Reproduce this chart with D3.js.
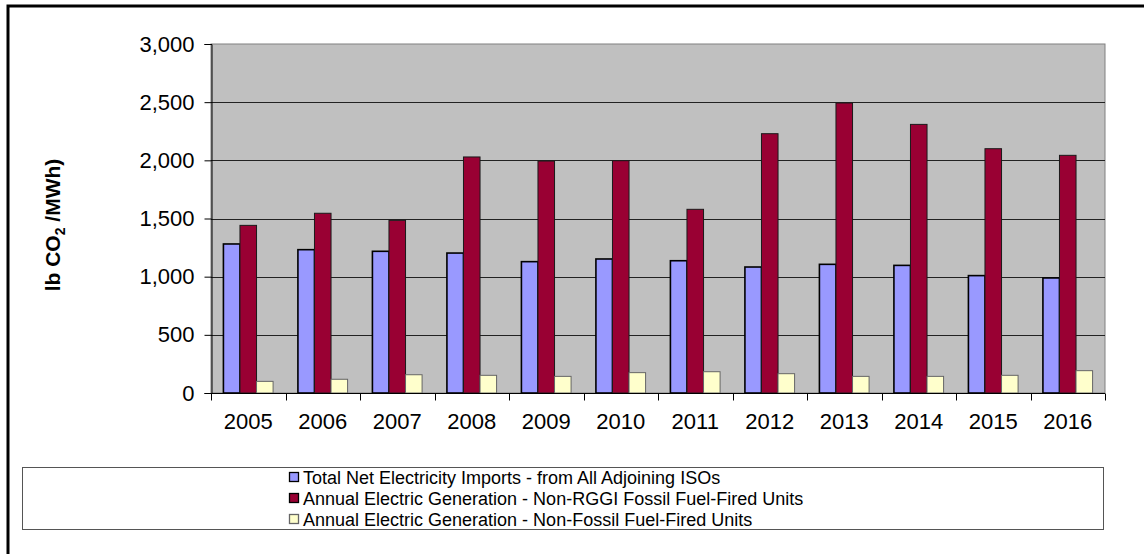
<!DOCTYPE html>
<html><head><meta charset="utf-8">
<script src="https://cdn.jsdelivr.net/npm/d3@7"></script>
<style>
html,body{margin:0;padding:0;background:#fff;}
svg{display:block;font-family:Arial,"Liberation Sans",sans-serif;}
</style></head>
<body>
<svg id="chart" width="1144" height="554"></svg>
<script>
const years = ["2005","2006","2007","2008","2009","2010","2011","2012","2013","2014","2015","2016"];
const imports = [1281,1232,1218,1203,1129,1152,1137,1083,1106,1097,1009,989];
const nonRggiFossil = [1441,1545,1484,2029,1994,1997,1579,2229,2493,2309,2100,2043];
const nonFossil = [100,118,157,152,143,175,183,166,143,143,152,192];
const seriesNames = [
  "Total Net Electricity Imports - from All Adjoining ISOs",
  "Annual Electric Generation - Non-RGGI Fossil Fuel-Fired Units",
  "Annual Electric Generation - Non-Fossil Fuel-Fired Units"
];
const yTicks = [0,500,1000,1500,2000,2500,3000];

const series = [
  {name: seriesNames[0], values: imports, fill:"#9999FF", stroke:"#000", sw:1.6},
  {name: seriesNames[1], values: nonRggiFossil, fill:"#990033", stroke:"#1a1a1a", sw:1},
  {name: seriesNames[2], values: nonFossil, fill:"#FFFFCC", stroke:"#666", sw:1}
];

const svg = d3.select("#chart");
// outer frame
svg.append("rect").attr("x",8).attr("y",6).attr("width",1160).attr("height",580)
  .attr("fill","none").attr("stroke","#000").attr("stroke-width",3);

const L=211, R=1105, T=44, B=393;
const x = d3.scaleBand().domain(years).range([L,R]).paddingInner(0).paddingOuter(0);
const y = d3.scaleLinear().domain([0,3000]).range([B,T]);
const barW = x.bandwidth()/4.5;
const inner = d3.scaleBand().domain([0,1,2]).range([0, barW*3]);

// plot background
svg.append("rect").attr("x",L).attr("y",T).attr("width",R-L).attr("height",B-T)
  .attr("fill","#C0C0C0").attr("stroke","#808080").attr("stroke-width",1);

// gridlines
svg.append("g").selectAll("line").data(yTicks.filter(d=>d>0 && d<3000)).join("line")
  .attr("x1",L).attr("x2",R).attr("y1",d=>Math.round(y(d))+0.5).attr("y2",d=>Math.round(y(d))+0.5)
  .attr("stroke","#222").attr("stroke-width",1);

// bars
series.forEach((s,i)=>{
  svg.append("g").selectAll("rect").data(years.map((yr,j)=>({yr,v:s.values[j]}))).join("rect")
    .attr("x",d=>x(d.yr)+(x.bandwidth()-barW*3)/2+inner(i))
    .attr("y",d=>y(d.v))
    .attr("width",barW)
    .attr("height",d=>B-y(d.v))
    .attr("fill",s.fill).attr("stroke",s.stroke).attr("stroke-width",s.sw);
});

// y axis
const yAxis = d3.axisLeft(y).tickValues(yTicks).tickSize(7).tickPadding(10)
  .tickFormat(d3.format(","));
const gy = svg.append("g").attr("transform",`translate(${L+0.5},0)`).call(yAxis);
gy.select(".domain").attr("stroke","#000");
gy.selectAll(".tick line").attr("stroke","#000");
gy.selectAll("text").attr("font-size",22).attr("fill","#000").attr("font-family","Arial,'Liberation Sans',sans-serif");

// x axis: ticks at category boundaries
const gx = svg.append("g").attr("transform",`translate(0,${B+0.5})`);
gx.append("line").attr("x1",L).attr("x2",R).attr("stroke","#000");
const bounds = years.map(d=>x(d)).concat([R]);
gx.selectAll("line.tk").data(bounds).join("line").attr("class","tk")
  .attr("x1",d=>Math.round(d)+0.5).attr("x2",d=>Math.round(d)+0.5).attr("y1",0).attr("y2",7).attr("stroke","#000");
gx.selectAll("text").data(years).join("text")
  .attr("x",d=>x(d)+x.bandwidth()/2).attr("y",35)
  .attr("text-anchor","middle").attr("font-size",22).attr("fill","#000").text(d=>d);

// y title
const yt = svg.append("text").attr("transform","translate(60,225) rotate(-90)")
  .attr("text-anchor","middle").attr("font-size",21).attr("font-weight","bold").attr("fill","#000");
yt.append("tspan").text("lb CO");
yt.append("tspan").attr("font-size",14).attr("dy",5).text("2");
yt.append("tspan").attr("dy",-5).text(" /MWh)");

// legend
svg.append("rect").attr("x",22.5).attr("y",467.5).attr("width",1081).attr("height",62)
  .attr("fill","#fff").attr("stroke","#555").attr("stroke-width",1);
const lg = svg.append("g");
series.forEach((s,i)=>{
  const cy = 478 + i*21;
  lg.append("rect").attr("x",289.5).attr("y",cy-5.5).attr("width",9).attr("height",9)
    .attr("fill",s.fill).attr("stroke", i===2?"#666":"#000").attr("stroke-width",1.3);
  lg.append("text").attr("x",303).attr("y",cy+6).attr("font-size",18).attr("fill","#000").text(s.name);
});
</script>
</body></html>
